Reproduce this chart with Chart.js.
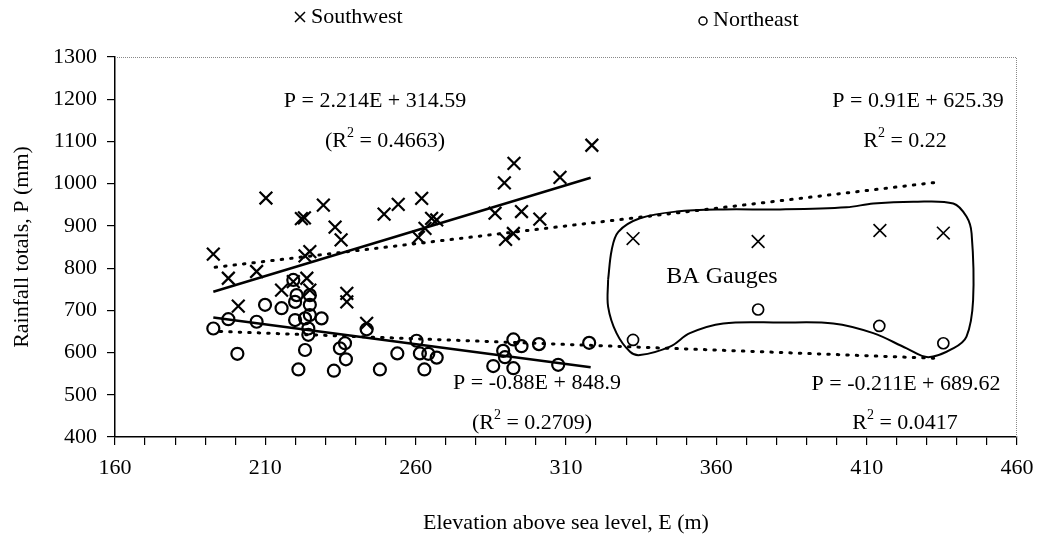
<!DOCTYPE html>
<html><head><meta charset="utf-8">
<script src="https://cdn.jsdelivr.net/npm/chart.js@4.4.1/dist/chart.umd.min.js"></script>
<style>html,body{margin:0;padding:0;background:#fff}</style>
</head><body>
<canvas id="c" width="1045" height="542"></canvas>
<script>
// ---------- data (E = elevation m, P = rainfall mm) ----------
const southwest = [
  [192.7,833],[197.7,776],[201,710],[207.1,792],[210.2,966],[215.4,748],[219.3,768],
  [222,917],[223,919],[223.2,829],[224.8,839],[223.8,776],[224.8,748],[229.3,949],
  [233.2,897],[235.2,867],[237.1,740],[237.1,720],[243.7,669],[249.5,928],[254.2,951],
  [262,965],[260.9,873],[263.1,894],[265.3,918],[267,914],[286.4,930],[289.5,1002],
  [292.7,1048],[295.2,934],[289.9,868],[292.5,882],[301.3,916],[308,1015],[318.6,1091]
];
const southwestBA = [[332.3,870],[373.9,863],[414.4,889],[435.5,883]];
const northeast = [
  [192.7,657],[197.7,679],[200.7,597],[207.1,673],[209.9,713],[215.4,705],[219.3,772],
  [219.9,720],[220.4,736],[224.8,736],[224.8,713],[219.9,677],[223.2,681],[224.8,689],
  [228.7,681],[224.3,657],[224.3,642],[223.2,606],[221,560],[232.8,557],[234.8,610],
  [236.5,622],[236.8,584],[243.7,655],[248.1,560],[253.9,598],[260.3,628],[261.4,598],
  [264.2,597],[267,588],[262.9,560],[285.8,568],[289.1,604],[289.7,589],[292.5,563],
  [292.5,631],[295.2,615],[301,620],[307.4,571],[317.7,623]
];
const northeastBA = [[332.3,630],[373.9,702],[414.2,663],[435.5,622]];
// trend line end points
const trendSW = [[192.7,744],[318.2,1014]];
const trendNE = [[192.7,683],[318.2,565]];
const trendSWall = [[193.3,802],[433,1003]];
const trendNEall = [[195,650],[434.4,586]];
// hand-drawn outline round the BA gauges
const baOutline = [
  [324.0,772],[325.2,843],[327.4,886],[334.6,918],[346.8,934],[362.3,939],[381.2,939],
  [403.3,944],[412.2,953],[425.5,957],[438.8,953],[443.2,922],[444.9,882],[445.4,724],
  [443.2,638],[438.8,610],[430.5,589],[423.3,610],[412.2,646],[398.9,669],[381.2,671],
  [362.3,669],[351.2,646],[344.6,614],[334.6,594],[331.3,602],[326.8,646],[324.0,709],[324.0,772]
];
const xTickLabels = [160,210,260,310,360,410,460];
const seriesNames = ['Southwest','Northeast'];
const eqTexts = {
  sw: ['P = 2.214E + 314.59', ['(R','2',' = 0.4663)']],
  swAll: ['P = 0.91E + 625.39', ['R','2',' = 0.22']],
  ne: ['P = -0.88E + 848.9', ['(R','2',' = 0.2709)']],
  neAll: ['P = -0.211E + 689.62', ['R','2',' = 0.0417']],
  ba: 'BA Gauges'
};

const toXY = a => a.map(p => ({x:p[0], y:p[1]}));
const FONT = 'Liberation Serif, Times New Roman, serif';

const lineDs = (d, dash, w, tension, cap) => ({
  data: toXY(d), showLine: true, pointRadius: 0, borderColor: '#000',
  borderWidth: w, borderDash: dash, tension: tension || 0, fill: false, borderCapStyle: cap || 'butt'
});

const textPlugin = {
  id: 'texts',
  afterDraw(chart) {
    const ctx = chart.ctx, a = chart.chartArea;
    ctx.save();
    // plot area top & right dotted frame
    ctx.strokeStyle = '#888'; ctx.lineWidth = 1; ctx.setLineDash([1,1]);
    ctx.beginPath(); ctx.moveTo(a.left, a.top + 0.5); ctx.lineTo(a.right - 0.5, a.top + 0.5);
    ctx.lineTo(a.right - 0.5, a.bottom); ctx.stroke();
    ctx.setLineDash([]);
    ctx.fillStyle = '#000';
    ctx.textBaseline = 'middle';
    const fs = 22;
    const plain = (t, cx, cy, size) => { ctx.font = (size || fs) + 'px ' + FONT; ctx.textAlign = 'center'; ctx.fillText(t, cx, cy); };
    const sup = (parts, cx, cy) => {
      ctx.textAlign = 'left';
      const f1 = fs + 'px ' + FONT, f2 = Math.round(fs*0.62) + 'px ' + FONT;
      ctx.font = f1; const w0 = ctx.measureText(parts[0]).width, w2 = ctx.measureText(parts[2]).width;
      ctx.font = f2; const w1 = ctx.measureText(parts[1]).width;
      let x = cx - (w0 + w1 + w2)/2;
      ctx.font = f1; ctx.fillText(parts[0], x, cy); x += w0;
      ctx.font = f2; ctx.fillText(parts[1], x, cy - 8); x += w1;
      ctx.font = f1; ctx.fillText(parts[2], x, cy);
    };
    plain(eqTexts.sw[0], 375, 101); sup(eqTexts.sw[1], 385, 141);
    plain(eqTexts.swAll[0], 918, 101); sup(eqTexts.swAll[1], 905, 141);
    plain(eqTexts.ne[0], 537, 383); sup(eqTexts.ne[1], 532, 423);
    plain(eqTexts.neAll[0], 906, 384); sup(eqTexts.neAll[1], 905, 423);
    plain(eqTexts.ba, 722, 277, 24);
    // legend
    ctx.font = fs + 'px ' + FONT; ctx.textAlign = 'left';
    ctx.strokeStyle = '#000'; ctx.lineWidth = 1.5;
    ctx.beginPath(); ctx.moveTo(295, 12); ctx.lineTo(305, 22); ctx.moveTo(305, 12); ctx.lineTo(295, 22); ctx.stroke();
    ctx.fillText(seriesNames[0], 311, 17);
    ctx.beginPath(); ctx.arc(703, 21, 4, 0, Math.PI*2); ctx.stroke();
    ctx.fillText(seriesNames[1], 713, 20);
    ctx.restore();
  }
};

new Chart(document.getElementById('c'), {
  type: 'scatter',
  data: {
    datasets: [
      lineDs(trendSW, [], 2.5),
      lineDs(trendNE, [], 2.5),
      lineDs(trendSWall, [1.5,8], 3, 0, 'round'),
      lineDs(trendNEall, [1.5,8], 3, 0, 'round'),
      lineDs(baOutline, [], 2, 0.35),
      { label: seriesNames[0], data: toXY(southwest), pointStyle: 'crossRot', pointRadius: 9,
        borderColor: '#000', backgroundColor: '#000', pointBorderWidth: 2.2 },
      { label: seriesNames[0] + ' BA', data: toXY(southwestBA), pointStyle: 'crossRot', pointRadius: 9,
        borderColor: '#000', backgroundColor: '#000', pointBorderWidth: 1.6 },
      { label: seriesNames[1], data: toXY(northeast), pointStyle: 'circle', pointRadius: 6,
        borderColor: '#000', backgroundColor: 'rgba(0,0,0,0)', pointBorderWidth: 2.2 },
      { label: seriesNames[1] + ' BA', data: toXY(northeastBA), pointStyle: 'circle', pointRadius: 5.5,
        borderColor: '#000', backgroundColor: 'rgba(0,0,0,0)', pointBorderWidth: 1.7 }
    ]
  },
  options: {
    responsive: false, animation: false, devicePixelRatio: 1,
    layout: { padding: { top: 57, right: 28, left: 0, bottom: 0 } },
    plugins: { legend: { display: false }, tooltip: { enabled: false } },
    scales: {
      x: {
        type: 'linear', min: 160, max: 460,
        afterFit: s => { s.height = 105; },
        ticks: { stepSize: 10, autoSkip: false, maxRotation: 0, padding: 10, color: '#000',
          font: { family: FONT, size: 22 },
          callback: v => xTickLabels.includes(v) ? String(v) : '' },
        grid: { drawOnChartArea: false, drawTicks: true, tickLength: 8, color: '#000', lineWidth: 1.2 },
        border: { display: true, color: '#000', width: 1.5 },
        title: { display: true, text: 'Elevation above sea level, E (m)', color: '#000',
          font: { family: FONT, size: 22 }, padding: { top: 0, bottom: 6 } }
      },
      y: {
        type: 'linear', min: 400, max: 1300,
        afterFit: s => { s.width = 115; },
        ticks: { stepSize: 100, padding: 10, color: '#000', font: { family: FONT, size: 22 },
          callback: v => String(v) },
        grid: { drawOnChartArea: false, drawTicks: true, tickLength: 8, color: '#000', lineWidth: 1.2 },
        border: { display: true, color: '#000', width: 1.5 },
        title: { display: true, text: 'Rainfall totals, P (mm)', color: '#000',
          font: { family: FONT, size: 22 }, padding: { top: 9, bottom: 0 } }
      }
    }
  },
  plugins: [textPlugin]
});
</script>
</body></html>
